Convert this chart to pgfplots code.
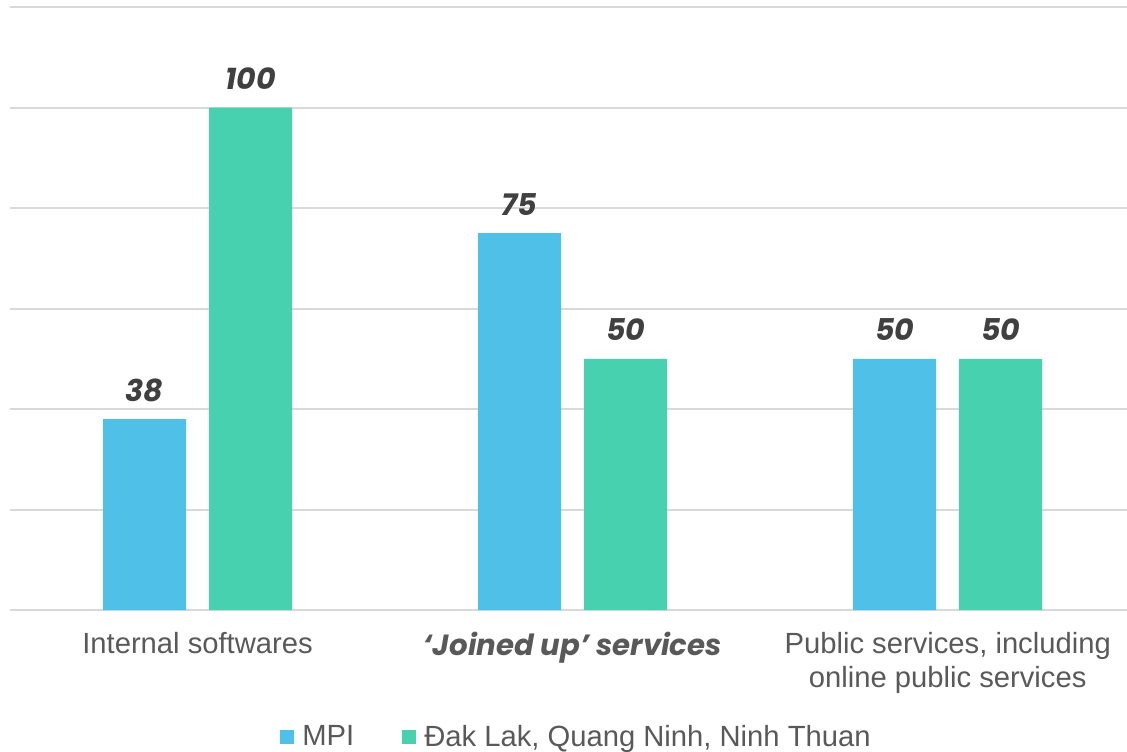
\documentclass[border=0pt]{standalone}
\usepackage{fontspec}
\setmainfont{Liberation Sans}
\newfontfamily\pop{Poppins}
\usepackage{pgfplots}
\pgfplotsset{compat=1.18}

\definecolor{mpiblue}{HTML}{4FC1E8}
\definecolor{provgreen}{HTML}{48D1AE}
\definecolor{valgray}{HTML}{404040}
\definecolor{labgray}{HTML}{595959}
\definecolor{gridgray}{HTML}{D9D9D9}

\pgfplotsset{
  sq legend/.style={legend image code/.code={%
      \fill[##1,draw=none] (0pt,-3.5pt) rectangle (7pt,3.5pt);}},
}

\begin{document}
\begin{tikzpicture}
\useasboundingbox (-5pt,-70.5pt) rectangle (558.5pt,305pt);
\begin{axis}[
  at={(0,0)}, anchor=south west,
  scale only axis,
  width=558.5pt, height=301.5pt,
  ybar=11.5pt, bar width=41.5pt,
  xmin=-0.5, xmax=2.478,
  ymin=0, ymax=120,
  ytick={0,20,...,120},
  yticklabels={},
  ymajorgrids,
  grid style={gridgray, line width=1pt},
  axis line style={draw=none},
  major tick length=0pt,
  xtick={0,1,2},
  xticklabels={
    Internal softwares,
    {\pop\bfseries\itshape ‘Joined up’ services},
    {Public services, including\\online public services}},
  xticklabel style={anchor=north, inner sep=0pt, yshift=-11pt,
    align=center, text=labgray,
    font=\fontsize{14.6}{17}\selectfont},
  nodes near coords={\pop\bfseries\itshape\fontsize{15}{18}\selectfont
    \pgfmathprintnumber[assume math mode=true]{\pgfplotspointmeta}},
  every node near coord/.append style={anchor=base, yshift=9pt,
    inner sep=0pt, text=valgray},
  legend columns=2,
  legend style={draw=none, fill=none, inner sep=0pt,
    at={(axis description cs:0.5,0)}, anchor=center,
    xshift=4.5pt, yshift=-63.5pt,
    font=\fontsize{14.6}{17}\selectfont, text=labgray,
    /tikz/every odd column/.append style={column sep=2pt},
    /tikz/every even column/.append style={column sep=22pt}},
  legend cell align=left,
]
\addplot[fill=mpiblue, draw=none, sq legend] coordinates {(0,38) (1,75) (2,50)};
\addplot[fill=provgreen, draw=none, sq legend] coordinates {(0,100) (1,50) (2,50)};
\legend{MPI, Đak Lak{,} Quang Ninh{,} Ninh Thuan}
\end{axis}
\end{tikzpicture}
\end{document}
